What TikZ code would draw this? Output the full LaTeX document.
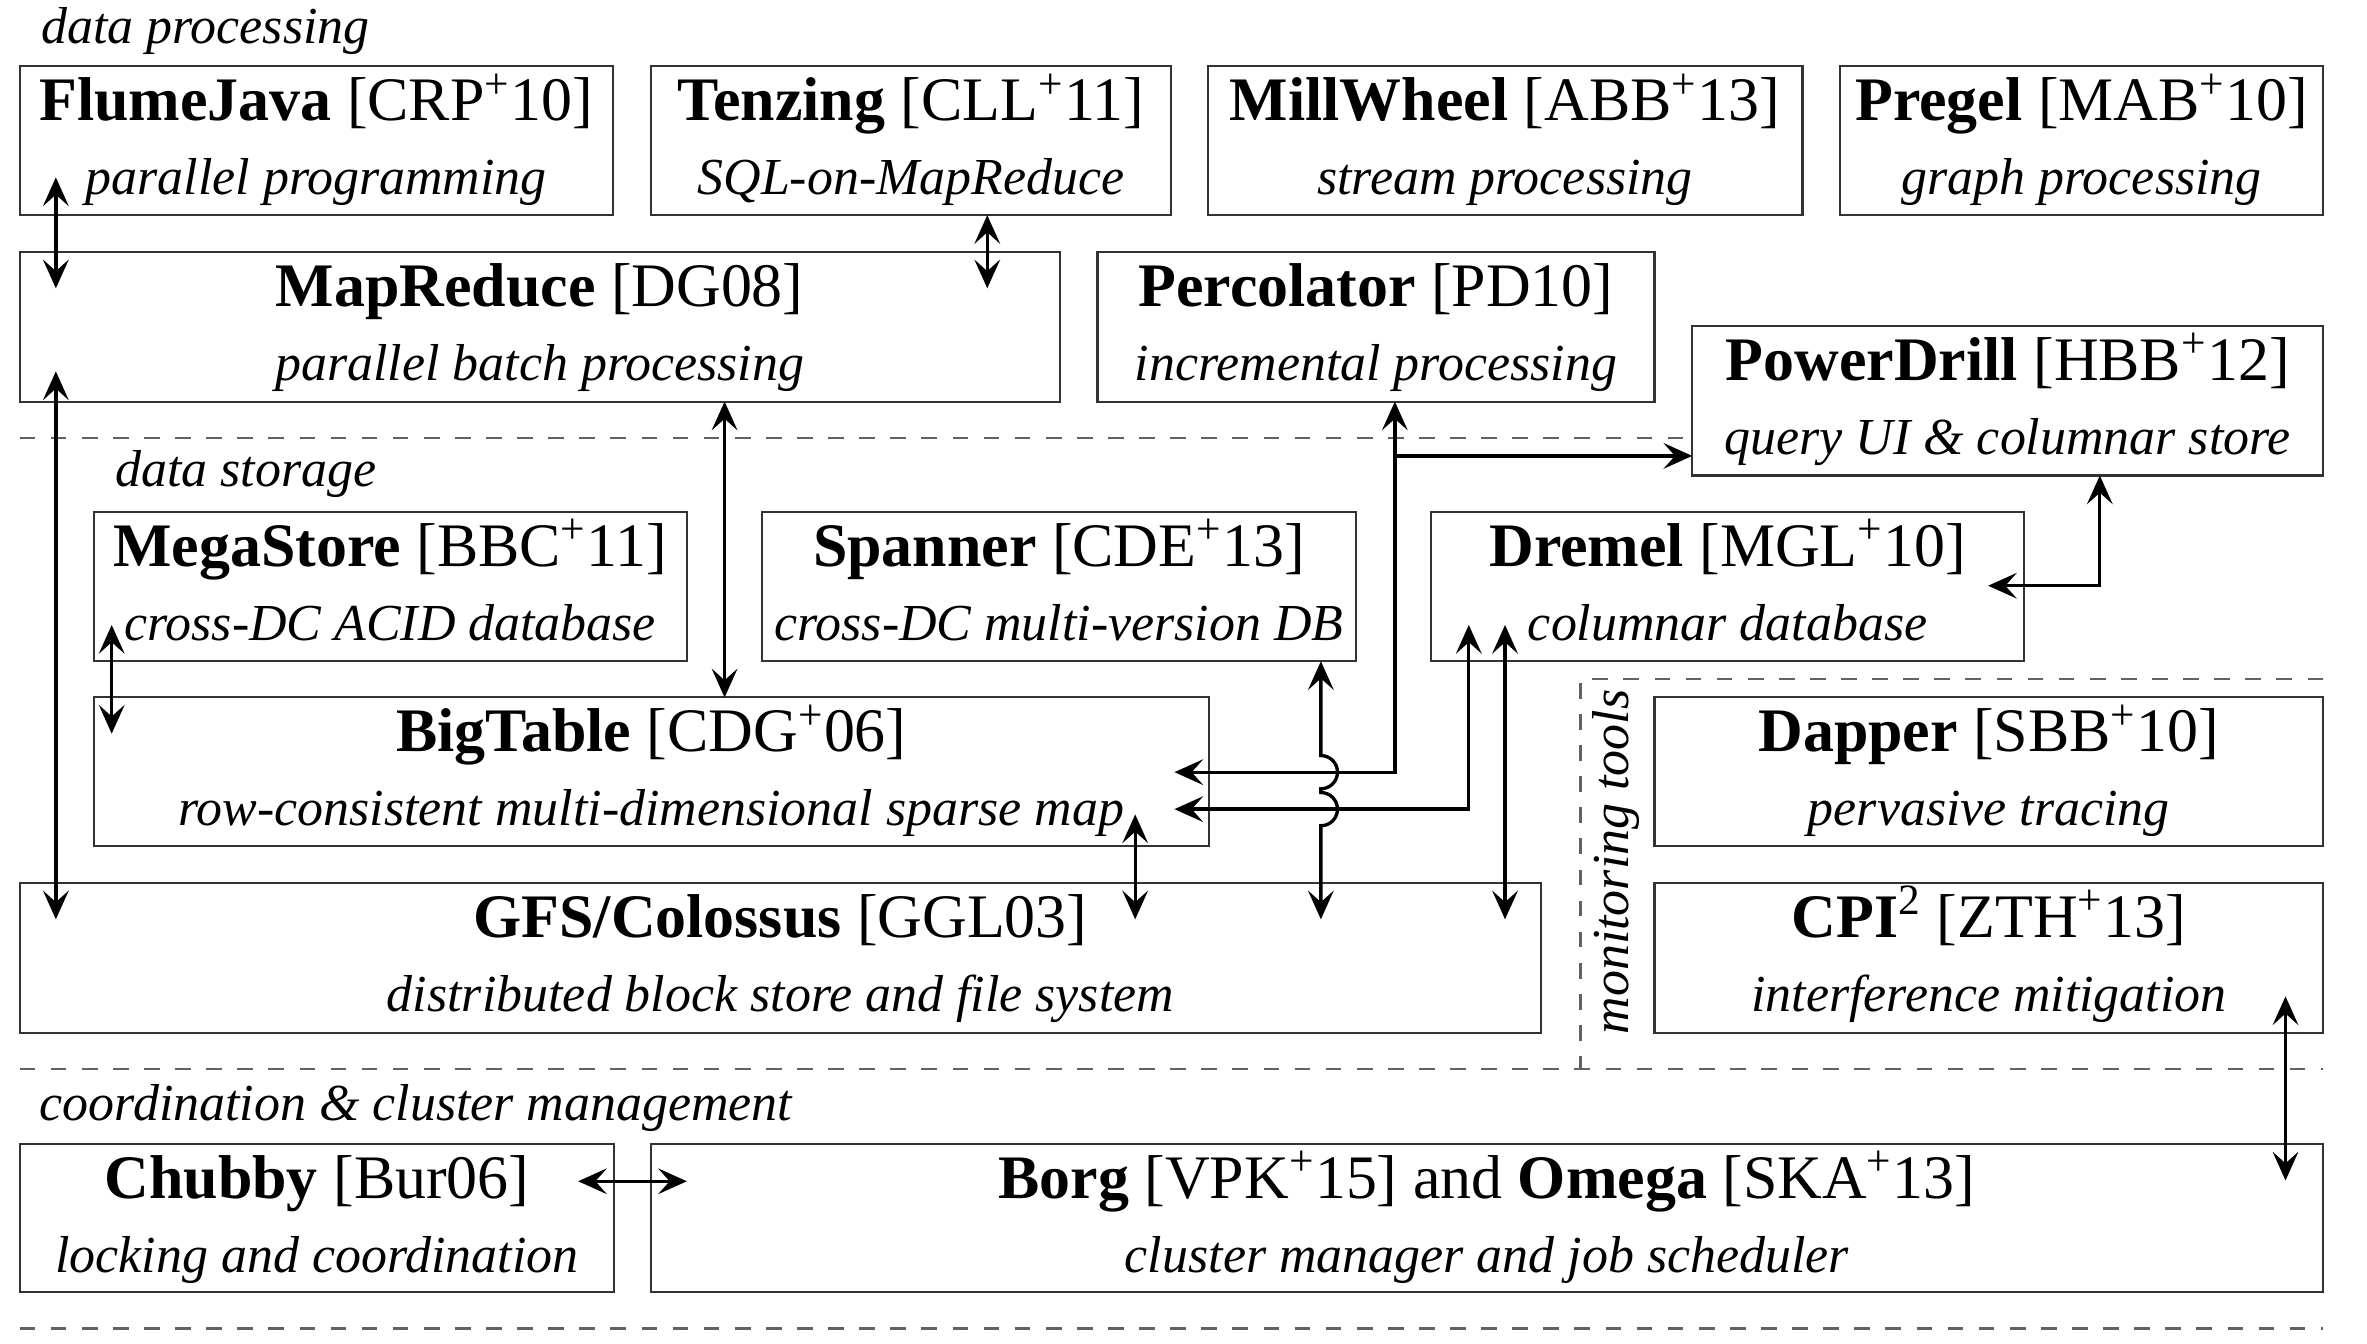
\documentclass[tikz,border=0pt]{standalone}
\usepackage{fontspec}
\setmainfont{Liberation Serif}
\usetikzlibrary{arrows.meta,fit,calc}
\newcommand\gsup[1]{\textsuperscript{#1}}
\newcommand\gbox[7]{%
  \coordinate (#1-a) at (#2,#3);
  \coordinate (#1-b) at (#4,#5);
  \node[box,fit=(#1-a)(#1-b)] (#1) {};
  \node[ttl] (#1-t) at ($(#1.north)+(0,36)$) {#6};
  \node[sub] (#1-s) at ($(#1.north)+(0,85)$) {#7};
}
\begin{document}
\begin{tikzpicture}[x=0.5pt,y=-0.5pt,
  box/.style={draw=black!80,line width=0.7pt,inner sep=0pt,outer sep=0pt},
  ttl/.style={anchor=base,inner sep=0pt,font=\fontsize{20.5pt}{24pt}\selectfont},
  sub/.style={anchor=base,inner sep=0pt,font=\fontsize{17.2pt}{20pt}\selectfont\itshape},
  sect/.style={anchor=base west,inner sep=0pt,font=\fontsize{17.2pt}{20pt}\selectfont\itshape},
  sep/.style={draw=black!62,line width=0.75pt,dash pattern=on 5.2pt off 5.1pt},
  tip/.tip={Stealth[length=9.5pt,width=8.5pt,inset=3.8pt]},
  arr/.style={line width=1.1pt,tip-tip},
  arrR/.style={line width=1.1pt,-tip}
]
\useasboundingbox (0,0) rectangle (1568,890);

% section labels
\node[sect] (lproc) at (27,29) {data processing};
\node[sect] (lstor) at (76,322) {data storage};
\node[sect] (lcoord) at (26,742) {coordination \& cluster management};
\node[anchor=base,inner sep=0pt,rotate=90,font=\fontsize{17.2pt}{20pt}\selectfont\itshape] (lmon) at (1079,571) {monitoring tools};

% separators
\coordinate (s1) at (0,290);
\coordinate (s2) at (0,708);
\coordinate (s3) at (0,880);
\coordinate (s4) at (0,450);
\coordinate (mx) at (1047,0);

% boxes
\gbox{flume}{13}{44}{406}{142.5}{\textbf{FlumeJava} [CRP\gsup{+}10]}{parallel programming}
\gbox{tenzing}{431}{44}{776}{142.5}{\textbf{Tenzing} [CLL\gsup{+}11]}{SQL-on-MapReduce}
\gbox{mill}{800}{44}{1194}{142.5}{\textbf{MillWheel} [ABB\gsup{+}13]}{stream processing}
\gbox{pregel}{1219}{44}{1539}{142.5}{\textbf{Pregel} [MAB\gsup{+}10]}{graph processing}
\gbox{mapred}{13}{167}{702}{266}{\textbf{MapReduce} [DG08]}{parallel batch processing}
\gbox{perc}{727}{167}{1096}{266}{\textbf{Percolator} [PD10]}{incremental processing}
\gbox{pdrill}{1121}{216}{1539}{315}{\textbf{PowerDrill} [HBB\gsup{+}12]}{query UI \& columnar store}
\gbox{mega}{62}{339}{455}{438}{\textbf{MegaStore} [BBC\gsup{+}11]}{cross-DC ACID database}
\gbox{spanner}{505}{339}{898}{438}{\textbf{Spanner} [CDE\gsup{+}13]}{cross-DC multi-version DB}
\gbox{dremel}{948}{339}{1341}{438}{\textbf{Dremel} [MGL\gsup{+}10]}{columnar database}
\gbox{bigt}{62}{462}{801}{560.5}{\textbf{BigTable} [CDG\gsup{+}06]}{row-consistent multi-dimensional sparse map}
\gbox{gfs}{13}{585}{1021}{684}{\textbf{GFS/Colossus} [GGL03]}{distributed block store and file system}
\gbox{dapper}{1096}{462}{1539}{560.5}{\textbf{Dapper} [SBB\gsup{+}10]}{pervasive tracing}
\gbox{cpi}{1096}{585}{1539}{684}{\textbf{CPI}\gsup{2} [ZTH\gsup{+}13]}{interference mitigation}
\gbox{chubby}{13}{758}{407}{856}{\textbf{Chubby} [Bur06]}{locking and coordination}
\gbox{borg}{431}{758}{1539}{856}{\textbf{Borg} [VPK\gsup{+}15] and \textbf{Omega} [SKA\gsup{+}13]}{cluster manager and job scheduler}

\draw[sep] (mapred.west |- s1) -- (pdrill.west |- s1);
\draw[sep] (mapred.west |- s2) -- (pregel.east |- s2);
\draw[sep] (mapred.west |- s3) -- (pregel.east |- s3);
\draw[sep] (pregel.east |- s4) -- (mx |- s4) -- (mx |- s2);

% connector columns / rows
\coordinate (c1) at (37,0);
\coordinate (c2) at (654,0);
\coordinate (c3) at (480,0);
\coordinate (c4) at (74,0);
\coordinate (c5) at (875,0);
\coordinate (c6) at (924,0);
\coordinate (c7) at (973,0);
\coordinate (c8) at (997,0);
\coordinate (c9) at (1391,0);
\coordinate (c10) at (752,0);
\coordinate (c11) at (1514,0);
\coordinate (h1) at (0,511.5);
\coordinate (h2) at (0,536);
\coordinate (h3) at (0,388);
\coordinate (h4) at (0,782.5);
\coordinate (pb) at (0,302);

% connectors
\draw[arr] ($(flume.south -| c1)+(0,-25)$) -- ($(mapred.north -| c1)+(0,24)$);
\draw[arr] (tenzing.south -| c2) -- ($(mapred.north -| c2)+(0,24)$);
\draw[arr] ($(mapred.south -| c1)+(0,-20)$) -- ($(gfs.north -| c1)+(0,24)$);
\draw[arr] (mapred.south -| c3) -- (bigt.north -| c3);
\draw[arr] ($(mega.south -| c4)+(0,-24)$) -- ($(bigt.north -| c4)+(0,24)$);
\draw[arr] (spanner.south -| c5) -- ($(c5 |- h1)+(0,-11)$)
  arc[start angle=90,end angle=-90,radius=5.5pt]
  -- ($(c5 |- h2)+(0,-11)$)
  arc[start angle=90,end angle=-90,radius=5.5pt]
  -- ($(gfs.north -| c5)+(0,24)$);
\draw[arr] (perc.south -| c6) -- (c6 |- h1) -- ($(bigt.east |- h1)+(-23,0)$);
\draw[arrR] (c6 |- pb) -- (pdrill.west |- pb);
\draw[arr] ($(dremel.south -| c7)+(0,-24)$) -- (c7 |- h2) -- ($(bigt.east |- h2)+(-23,0)$);
\draw[arr] ($(dremel.south -| c8)+(0,-24)$) -- ($(gfs.north -| c8)+(0,24)$);
\draw[arr] (pdrill.south -| c9) -- (c9 |- h3) -- ($(dremel.east |- h3)+(-24,0)$);
\draw[arr] ($(bigt.south -| c10)+(0,-21)$) -- ($(gfs.north -| c10)+(0,24)$);
\draw[arr] ($(cpi.south -| c11)+(0,-24)$) -- ($(borg.north -| c11)+(0,24)$);
\draw[arr] ($(chubby.east |- h4)+(-24,0)$) -- ($(borg.west |- h4)+(24,0)$);
\end{tikzpicture}
\end{document}
